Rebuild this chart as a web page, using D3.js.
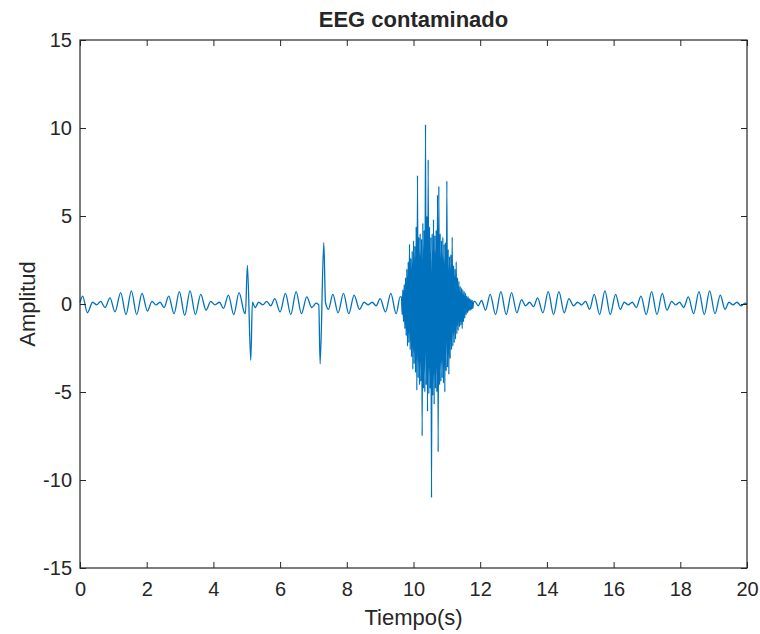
<!DOCTYPE html>
<html>
<head>
<meta charset="utf-8">
<script src="https://cdn.jsdelivr.net/npm/d3@7/dist/d3.min.js"></script>
<style>
body { margin: 0; background: #fff; }
text { font-family: "Liberation Sans", Arial, sans-serif; fill: #262626; }
</style>
</head>
<body>
<script>
// tick values
var xTicks = [0, 2, 4, 6, 8, 10, 12, 14, 16, 18, 20];
var yTicks = [-15, -10, -5, 0, 5, 10, 15];

// baseline EEG before the burst (local peaks/troughs), incl. the two spikes
var preTime = [0.00, 0.08, 0.22, 0.38, 0.50, 0.62, 0.75, 0.90, 1.05, 1.22, 1.38, 1.54, 1.70, 1.86, 2.02, 2.16, 2.28, 2.40, 2.52, 2.66,
  2.82, 2.98, 3.14, 3.30, 3.46, 3.62, 3.78, 3.92, 4.05, 4.18, 4.30, 4.45, 4.61, 4.77, 4.93, 4.96, 5.02, 5.12, 5.17, 5.25,
  5.36, 5.48, 5.60, 5.72, 5.84, 6.00, 6.16, 6.32, 6.48, 6.64, 6.80, 6.95, 7.08, 7.16, 7.20, 7.31, 7.36, 7.45, 7.58, 7.74,
  7.90, 8.06, 8.22, 8.38, 8.52, 8.64, 8.76, 8.88, 9.00, 9.16, 9.32, 9.48, 9.60];
var preAmp = [0.1, 0.45, -0.5, 0.1, -0.05, 0.15, -0.2, 0.35, -0.45, 0.65, -0.6, 0.75, -0.6, 0.6, -0.4, 0.15, -0.05, 0.1, -0.2, 0.45,
  -0.55, 0.7, -0.65, 0.75, -0.6, 0.55, -0.35, 0.15, -0.05, 0.1, -0.25, 0.5, -0.6, 0.65, -0.5, -0.55, 2.2, -3.2, 0.1, -0.2,
  0.1, -0.05, 0.15, -0.1, 0.3, -0.45, 0.6, -0.6, 0.7, -0.55, 0.4, -0.2, 0.05, -0.05, -3.4, 3.5, 0.1, -0.3, 0.55, -0.5,
  0.6, -0.55, 0.5, -0.3, 0.1, -0.05, 0.1, -0.1, 0.3, -0.45, 0.6, -0.55, 0.4];

// contaminated burst (dense samples)
var burstTime = [9.64, 9.66, 9.68, 9.70, 9.72, 9.74, 9.76, 9.78, 9.80, 9.82, 9.84, 9.86, 9.88, 9.90, 9.92, 9.94, 9.96, 9.98,
  10.00, 10.02, 10.04, 10.06, 10.08, 10.10, 10.12, 10.14, 10.16, 10.18, 10.20, 10.22, 10.24, 10.26, 10.28, 10.30, 10.32, 10.34,
  10.36, 10.38, 10.40, 10.42, 10.44, 10.46, 10.48, 10.50, 10.52, 10.54, 10.56, 10.58, 10.60, 10.62, 10.64, 10.66, 10.68, 10.70,
  10.72, 10.74, 10.76, 10.78, 10.80, 10.82, 10.84, 10.86, 10.88, 10.90, 10.92, 10.94, 10.96, 10.98, 11.00, 11.02, 11.04, 11.06,
  11.08, 11.10, 11.12, 11.14, 11.16, 11.18, 11.20, 11.22, 11.24, 11.26, 11.28, 11.30, 11.32, 11.34, 11.36, 11.38, 11.40, 11.42,
  11.44, 11.46, 11.48, 11.50, 11.52, 11.54, 11.56, 11.58, 11.60, 11.62, 11.64, 11.66, 11.68, 11.70, 11.72, 11.74, 11.76, 11.78, 11.80];
var burstAmp = [0.4, -0.6, 0.8, -1.0, 1.1, -1.4, 1.5, -1.8, 2.0, -2.4, 2.4, -2.2, 3.4, -2.6, 2.6, -3.0, 3.0, -3.7,
  3.6, -3.4, 3.3, -3.9, 4.4, -4.9, 7.3, -4.2, 3.8, -4.6, 4.0, -4.4, 3.7, -7.5, 4.6, -4.8, 4.2, -5.0,
  10.2, -4.6, 5.0, -6.1, 8.2, -5.1, 4.4, -4.8, 3.8, -11.0, 4.0, -5.2, 4.8, -5.7, 3.9, -4.8, 4.2, -5.0,
  6.2, -8.4, 6.7, -4.6, 4.0, -4.4, 3.6, -4.2, 3.8, -4.5, 3.4, -5.0, 3.5, -3.8, 7.0, -3.6, 3.1, -4.0,
  2.7, -3.1, 2.8, -2.6, 3.8, -2.4, 2.2, -2.2, 2.0, -2.0, 2.4, -1.7, 1.5, -1.5, 1.3, -1.3, 1.0, -1.2,
  0.9, -1.4, 0.8, -1.0, 0.7, -0.8, 0.6, -0.6, 0.45, -0.5, 0.4, -0.4, 0.3, -0.35, 0.25, -0.3, 0.2, -0.25, 0.1];

// baseline EEG after the burst
var postTime = [11.84, 11.94, 12.04, 12.16, 12.30, 12.46, 12.62, 12.78, 12.94, 13.10, 13.24, 13.36, 13.48, 13.60, 13.72, 13.88,
  14.04, 14.20, 14.36, 14.52, 14.66, 14.80, 14.92, 15.04, 15.16, 15.28, 15.42, 15.58, 15.74, 15.90, 16.06, 16.20, 16.32, 16.44,
  16.56, 16.68, 16.82, 16.98, 17.14, 17.30, 17.46, 17.60, 17.74, 17.86, 17.98, 18.10, 18.24, 18.40, 18.56, 18.72, 18.88, 19.04,
  19.20, 19.34, 19.46, 19.58, 19.70, 19.82, 19.94, 20.00];
var postAmp = [0.15, -0.1, 0.2, -0.35, 0.55, -0.6, 0.7, -0.6, 0.65, -0.5, 0.25, -0.1, 0.1, -0.15, 0.35, -0.5,
  0.7, -0.6, 0.7, -0.5, 0.3, -0.1, 0.1, -0.05, 0.15, -0.3, 0.55, -0.6, 0.75, -0.6, 0.55, -0.3, 0.1, -0.05,
  0.1, -0.2, 0.45, -0.6, 0.7, -0.6, 0.6, -0.35, 0.15, -0.05, 0.1, -0.2, 0.4, -0.55, 0.7, -0.6, 0.75, -0.55,
  0.5, -0.3, 0.1, -0.05, 0.1, -0.1, 0.05, 0.0];

var width = 760, height = 634;
var margin = {top: 40, right: 13, bottom: 66, left: 80};
var w = width - margin.left - margin.right;
var h = height - margin.top - margin.bottom;

var svg = d3.select("body").append("svg")
  .attr("width", width).attr("height", height);

var g = svg.append("g").attr("transform", "translate(" + margin.left + "," + margin.top + ")");

var x = d3.scaleLinear().domain([0, 20]).range([0, w]);
var y = d3.scaleLinear().domain([-15, 15]).range([h, 0]);

// build the one series
var times = preTime.concat(burstTime, postTime);
var amps = preAmp.concat(burstAmp, postAmp);
var pts = times.map(function (t, i) { return [t, amps[i]]; });

var line = d3.line()
  .x(function (d) { return x(d[0]); })
  .y(function (d) { return y(d[1]); })
  .curve(d3.curveMonotoneX);

g.append("path")
  .datum(pts)
  .attr("d", line)
  .attr("fill", "none")
  .attr("stroke", "#0072BD")
  .attr("stroke-width", 1.3);

// axes, ticks point inward like matlab, plain hyphen for negatives
var tl = 6;
var fmt = function (d) { return String(d); };
var xAx = g.append("g").attr("transform", "translate(0," + h + ")")
  .call(d3.axisBottom(x).tickValues(xTicks).tickFormat(fmt).tickSizeInner(-tl).tickSizeOuter(0).tickPadding(14));
var xTop = g.append("g")
  .call(d3.axisTop(x).tickValues(xTicks).tickSizeInner(-tl).tickSizeOuter(0).tickFormat(""));
var yAx = g.append("g")
  .call(d3.axisLeft(y).tickValues(yTicks).tickFormat(fmt).tickSizeInner(-tl).tickSizeOuter(0).tickPadding(8));
var yRight = g.append("g").attr("transform", "translate(" + w + ",0)")
  .call(d3.axisRight(y).tickValues(yTicks).tickSizeInner(-tl).tickSizeOuter(0).tickFormat(""));

[xAx, xTop, yAx, yRight].forEach(function (a) {
  a.select(".domain").remove();
  a.selectAll("line").attr("stroke", "#262626");
  a.selectAll("text").style("font-size", "20px").attr("fill", "#262626")
    .style("font-family", "'Liberation Sans', Arial, sans-serif");
});

g.append("rect")
  .attr("width", w).attr("height", h)
  .attr("fill", "none")
  .attr("stroke", "#262626")
  .attr("stroke-width", 1.2);

// title and labels
svg.append("text")
  .attr("x", margin.left + w / 2).attr("y", 27)
  .attr("text-anchor", "middle")
  .style("font-size", "22px").style("font-weight", "bold")
  .text("EEG contaminado");

svg.append("text")
  .attr("x", margin.left + w / 2).attr("y", 625)
  .attr("text-anchor", "middle")
  .style("font-size", "22px")
  .text("Tiempo(s)");

svg.append("text")
  .attr("transform", "translate(35," + (margin.top + h / 2) + ") rotate(-90)")
  .attr("text-anchor", "middle")
  .style("font-size", "22px")
  .text("Amplitud");
</script>
</body>
</html>
